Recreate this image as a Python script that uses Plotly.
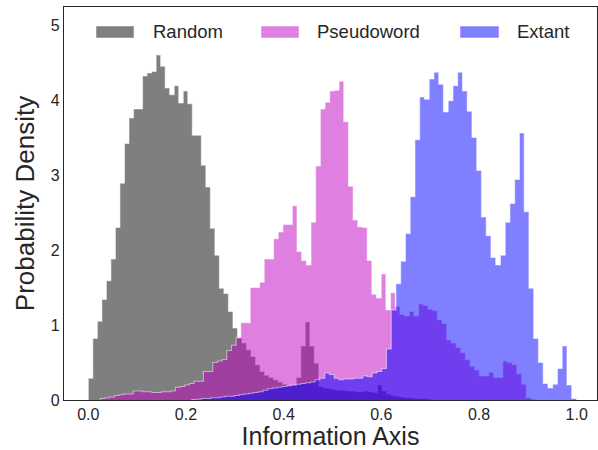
import plotly.graph_objects as go

# ---- data (probability densities per histogram bin) ----
series_names = ["Random", "Pseudoword", "Extant"]

random_bin_start = 0.0
random_bin_width = 0.009255
random_density = [
    0.29, 0.82, 1.05, 1.34, 1.59, 1.88, 2.30, 2.89, 3.42, 3.76,
    3.88, 3.88, 4.32, 4.36, 4.38, 4.60, 4.45, 4.16, 4.07, 4.19,
    3.96, 4.12, 3.95, 3.53, 3.53, 3.13, 2.84, 2.29, 1.93, 1.49,
    1.42, 1.18, 0.96, 0.83, 0.76, 0.67, 0.58, 0.47, 0.38, 0.33,
    0.30, 0.27, 0.24, 0.21, 0.19, 0.20, 0.30, 0.72, 1.04, 0.72,
    0.49, 0.18, 0.16, 0.15, 0.14, 0.13, 0.13, 0.12, 0.12, 0.11,
    0.11, 0.12, 0.11, 0.10, 0.20, 0.12, 0.08, 0.06, 0.05, 0.04,
    0.03, 0.03, 0.02, 0.02, 0.02, 0.01,
]

pseudo_bin_start = 0.0249
pseudo_bin_width = 0.00958
pseudo_density = [
    0.02, 0.03, 0.04, 0.06, 0.07, 0.08, 0.08, 0.12, 0.12, 0.11,
    0.11, 0.10, 0.10, 0.11, 0.11, 0.12, 0.17, 0.18, 0.20, 0.22,
    0.25, 0.25, 0.38, 0.38, 0.50, 0.52, 0.54, 0.66, 0.73, 0.83,
    1.03, 1.03, 1.50, 1.50, 1.57, 1.88, 1.88, 2.15, 2.24, 2.34,
    2.34, 2.59, 1.98, 1.86, 1.80, 2.37, 3.12, 3.88, 3.97, 4.12,
    4.13, 4.25, 3.71, 2.85, 2.40, 2.31, 2.30, 1.86, 1.41, 1.36,
    1.68, 1.20, 1.43, 1.25, 1.14, 1.12, 1.18, 1.12, 1.28, 1.26,
    1.21, 1.19, 1.07, 1.02, 0.80, 0.76, 0.70, 0.63, 0.54, 0.45,
    0.40, 0.32, 0.32, 0.37, 0.30, 0.30, 0.52, 0.50, 0.47, 0.35,
    0.21, 0.03, 0.01,
]

extant_bin_start = 0.2117
extant_bin_width = 0.009726
extant_density = [
    0.005, 0.01, 0.02, 0.02, 0.03, 0.03, 0.04, 0.05, 0.05, 0.06,
    0.07, 0.08, 0.09, 0.10, 0.11, 0.13, 0.15, 0.16, 0.17, 0.18,
    0.19, 0.20, 0.21, 0.22, 0.23, 0.24, 0.27, 0.29, 0.36, 0.34,
    0.29, 0.27, 0.28, 0.28, 0.29, 0.29, 0.32, 0.31, 0.36, 0.38,
    0.42, 0.68, 1.20, 1.55, 1.85, 2.22, 2.71, 3.47, 4.04, 4.01,
    4.28, 4.37, 4.21, 3.84, 3.99, 4.19, 4.37, 4.12, 3.85, 3.50,
    3.06, 2.44, 2.19, 1.90, 1.80, 1.93, 2.37, 2.62, 2.94, 3.56,
    2.51, 1.49, 0.82, 0.50, 0.22, 0.16, 0.21, 0.42, 0.72, 0.20,
    0.02,
]

x_tick_values = [0.0, 0.2, 0.4, 0.6, 0.8, 1.0]
y_tick_values = [0, 1, 2, 3, 4, 5]
x_title = "Information Axis"
y_title = "Probability Density"

# ---- styling ----
fill_colors = ["rgba(0,0,0,0.5)", "rgba(191,0,191,0.5)", "rgba(0,0,255,0.5)"]
edge_color = "rgba(255,255,255,0.5)"
ink = "#262626"
font_family = "Arial, Liberation Sans, sans-serif"


def step_outline(start, width, heights):
    edges = [start + width * i for i in range(len(heights) + 1)]
    xs = [edges[0]] + edges[:-1] + [edges[-1]]
    ys = [0] + list(heights) + [0]
    return xs, ys


fig = go.Figure()
all_series = [
    (random_bin_start, random_bin_width, random_density),
    (pseudo_bin_start, pseudo_bin_width, pseudo_density),
    (extant_bin_start, extant_bin_width, extant_density),
]
for name, (s, w, h), fc in zip(series_names, all_series, fill_colors):
    xs, ys = step_outline(s, w, h)
    fig.add_trace(go.Scatter(
        x=xs, y=ys, name=name, mode="lines", line_shape="hv",
        fill="tozeroy", fillcolor=fc,
        line=dict(color=edge_color, width=1.1),
        showlegend=False, hoverinfo="skip",
    ))

# ---- manual legend (wide patches like the reference) ----
plot_l, plot_r, plot_t, plot_b = 64, 597, 7, 400
pw, ph = plot_r - plot_l, plot_b - plot_t


def px_x(p):
    return (p - plot_l) / pw


def px_y(p):
    return (plot_b - p) / ph


legend_items = [(96, 134, 151), (261, 299, 315), (460, 499, 515)]
for (x0, x1, tx), name, fc in zip(legend_items, series_names, fill_colors):
    fig.add_shape(type="rect", xref="paper", yref="paper",
                  x0=px_x(x0), x1=px_x(x1), y0=px_y(38), y1=px_y(26),
                  fillcolor=fc, line=dict(color=edge_color, width=1))
    fig.add_annotation(xref="paper", yref="paper", x=px_x(tx), y=px_y(32),
                       text=name, showarrow=False, xanchor="left",
                       yanchor="middle", font=dict(size=18.5, color=ink))

fig.update_layout(
    width=598, height=450,
    margin=dict(l=plot_l, r=598 - plot_r, t=plot_t, b=450 - plot_b),
    paper_bgcolor="white", plot_bgcolor="white",
    font=dict(family=font_family, color=ink, size=16),
    showlegend=False,
)
fig.update_xaxes(
    range=[-0.0498, 1.0416], tickvals=x_tick_values, tickformat=".1f",
    showgrid=False, zeroline=False, showline=True, mirror=True,
    linecolor=ink, linewidth=1.25, ticks="",
    tickfont=dict(size=16, color=ink),
    title=dict(text=x_title, font=dict(size=25, color=ink)),
    automargin=False,
)
fig.update_yaxes(
    range=[0, 5.24], tickvals=y_tick_values,
    showgrid=False, zeroline=False, showline=True, mirror=True,
    linecolor=ink, linewidth=1.25, ticks="",
    tickfont=dict(size=16, color=ink),
    title=dict(text=y_title, font=dict(size=26, color=ink), standoff=8),
    automargin=False,
)

fig.write_html(
    "out.html",
    config={"displayModeBar": False},
    post_script="document.body.style.margin='0';document.body.style.padding='0';",
)
